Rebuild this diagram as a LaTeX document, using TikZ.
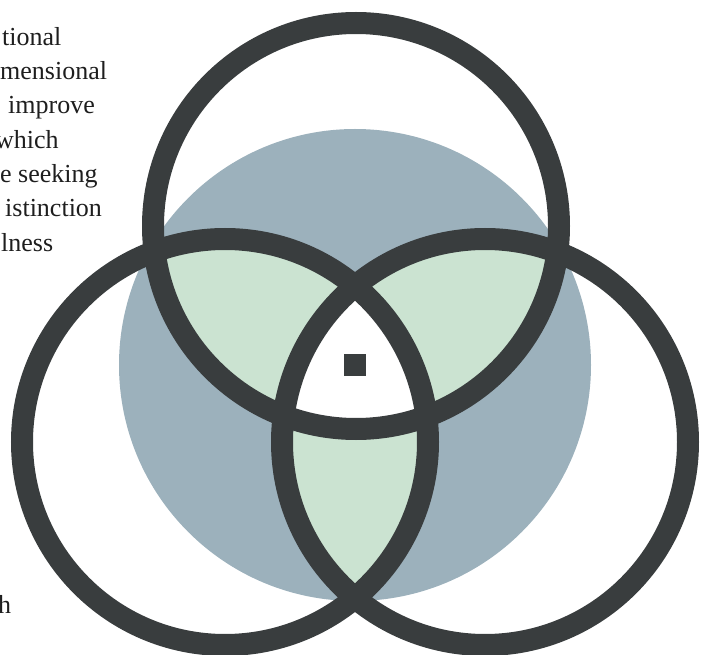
\documentclass[tikz,border=0pt]{standalone}
\usepackage{fontspec}
\setmainfont{Liberation Serif}
\definecolor{ringc}{HTML}{393D3E}
\definecolor{bluec}{HTML}{9CB1BC}
\definecolor{greenc}{HTML}{CBE3D1}
\definecolor{textc}{HTML}{1E1E1E}
\begin{document}
\begin{tikzpicture}[x=1pt,y=-1pt,
  ring/.style={draw=ringc,line width=22pt},
  frag/.style={anchor=base west,inner sep=0pt,text=textc,font=\fontsize{26}{30}\selectfont}]
\useasboundingbox (0,0) rectangle (705,655);
% text fragments
\node[frag] (t1) at (2,45.5) {tional};
\node[frag] (t2) at (0,80) {mensional};
\node[frag] (t3) at (8,114) {improve};
\node[frag] (t4) at (-5,148.5) {which};
\node[frag] (t5) at (0,183) {e seeking};
\node[frag] (t6) at (5,217) {istinction};
\node[frag] (t7) at (1,252) {lness};
\node[frag] (t8) at (-2,613) {h};
% centres
\coordinate (T) at (356,226);
\coordinate (L) at (225,442);
\coordinate (R) at (485,442);
\coordinate (B) at (355,365);
% blue disc
\fill[bluec] (B) circle (236);
% pairwise intersections
\begin{scope}
  \clip (B) circle (236);
  \begin{scope}\clip (T) circle (203);\fill[greenc] (L) circle (203);\end{scope}
  \begin{scope}\clip (T) circle (203);\fill[greenc] (R) circle (203);\end{scope}
  \begin{scope}\clip (L) circle (203);\fill[greenc] (R) circle (203);\end{scope}
\end{scope}
% triple intersection
\begin{scope}
  \clip (T) circle (203);
  \clip (L) circle (203);
  \fill[white] (R) circle (203);
\end{scope}
% rings
\draw[ring] (T) circle (203);
\draw[ring] (L) circle (203);
\draw[ring] (R) circle (203);
% centre square
\node[fill=ringc,minimum size=22pt,inner sep=0pt] (sq) at (355,365) {};
\end{tikzpicture}
\end{document}
